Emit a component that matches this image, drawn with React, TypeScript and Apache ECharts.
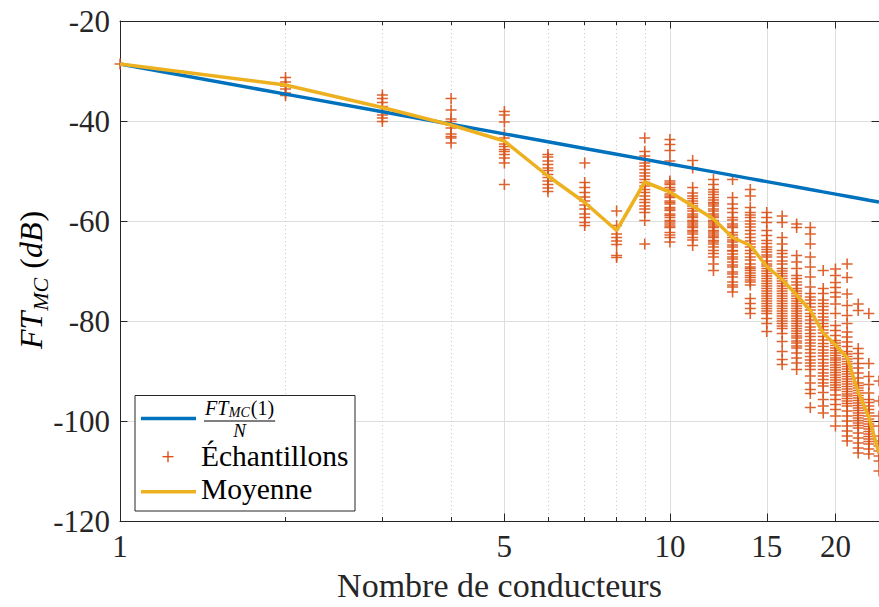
import React, { useEffect, useRef } from "react";
import * as echarts from "echarts";

// ---------- data ----------
const N_VALUES = [1, 2, 3, 4, 5, 6, 7, 8, 9, 10, 11, 12, 13, 14, 15, 16, 17, 18, 19, 20, 21, 22, 23, 24];

// FT_MC(1)/N (dB)
const REFERENCE_DB = [
  -28.6, -34.62, -38.14, -40.64, -42.58, -44.16, -45.5, -46.66, -47.68, -48.6, -49.43, -50.18,
  -50.88, -51.52, -52.12, -52.68, -53.21, -53.71, -54.18, -54.62, -55.04, -55.45, -55.84, -56.2,
];

// Moyenne (dB)
const MEAN_DB = [
  -28.6, -32.8, -37.3, -40.8, -44.0, -51.0, -56.3, -61.9, -52.2, -54.2, -57.0, -59.6,
  -63.3, -64.9, -69.1, -71.7, -74.8, -77.9, -82.4, -84.8, -87.3, -94.2, -99.2, -106.5,
];

// Échantillons (dB), one list per N (index = N - 1)
const SAMPLES: number[][] = [
  [-28.6],
  [-31.3, -32.2, -33.0, -33.6, -34.4, -34.9],
  [-34.8, -35.5, -36.3, -37.1, -38.1, -38.8, -39.4, -40.1],
  [-35.5, -37.8, -39.6, -40.1, -40.8, -41.4, -42.6, -43.1, -43.4, -44.4],
  [-38.1, -38.8, -40.2, -42.6, -43.4, -44.6, -45.1, -45.7, -46.1, -46.7, -47.4, -48.4, -52.7],
  [-46.7, -47.2, -48.0, -48.7, -49.4, -49.9, -50.7, -51.3, -52.0, -52.7, -53.4, -54.1],
  [-48.4, -52.3, -53.3, -54.3, -55.2, -56.0, -56.8, -57.6, -58.6, -59.3, -60.3, -60.9],
  [-58.0, -60.9, -62.6, -63.3, -64.0, -64.7, -66.9, -67.3],
  [-43.4, -46.1, -47.0, -47.7, -48.4, -49.0, -49.7, -50.4, -51.0, -51.7, -52.3, -53.0, -53.7, -54.3, -55.0, -55.7, -56.3, -57.0, -57.6, -58.3, -59.9, -64.6],
  [-43.7, -44.7, -45.9, -48.0, -52.0, -52.4, -52.7, -53.3, -53.7, -54.0, -54.6, -55.0, -55.3, -56.0, -56.3, -56.6, -57.3, -57.6, -57.9, -58.6, -58.9, -59.3, -59.9, -60.2, -60.6, -61.0, -61.3, -62.3, -62.8, -63.3, -64.2],
  [-47.9, -49.4, -53.3, -54.4, -55.0, -55.5, -56.0, -56.5, -57.0, -57.5, -58.0, -58.6, -59.0, -59.3, -59.9, -60.2, -60.6, -61.0, -61.3, -61.9, -62.2, -62.6, -63.3, -63.8, -64.9],
  [-51.7, -52.7, -53.7, -54.2, -54.7, -55.3, -55.8, -56.3, -56.6, -57.0, -57.6, -58.0, -58.6, -59.0, -59.3, -59.9, -60.2, -60.6, -61.0, -61.3, -61.9, -62.2, -62.6, -63.0, -63.3, -63.9, -64.2, -64.6, -65.2, -65.9, -66.5, -67.2, -68.6, -69.9],
  [-51.7, -55.3, -56.6, -57.5, -58.3, -59.3, -59.8, -60.6, -61.0, -61.3, -62.3, -62.8, -63.3, -63.8, -64.2, -64.8, -65.2, -65.9, -66.0, -66.6, -67.2, -67.6, -68.2, -68.8, -69.2, -70.2, -70.6, -71.2, -72.2, -72.8, -73.2, -74.2],
  [-53.7, -55.0, -57.3, -58.3, -58.8, -59.3, -60.0, -60.6, -61.2, -61.9, -62.6, -63.3, -64.0, -64.6, -65.2, -65.9, -66.5, -67.2, -67.8, -68.6, -69.2, -69.5, -69.9, -70.4, -70.9, -71.3, -71.8, -72.2, -72.8, -75.5, -76.5, -77.5, -78.5],
  [-58.3, -59.3, -60.3, -61.9, -62.9, -63.9, -64.5, -65.2, -65.7, -66.2, -66.8, -67.2, -68.0, -68.6, -69.0, -69.5, -70.0, -70.5, -71.0, -71.5, -72.0, -72.5, -73.0, -73.5, -74.0, -74.5, -75.0, -75.5, -76.0, -76.5, -77.0, -77.5, -78.0, -78.5, -79.5, -80.5, -82.1],
  [-59.0, -60.3, -63.3, -64.6, -65.9, -66.5, -67.2, -68.0, -68.6, -69.5, -70.0, -70.5, -71.0, -71.5, -72.0, -72.5, -73.0, -73.5, -74.0, -74.5, -75.0, -75.5, -76.0, -76.5, -77.0, -77.5, -78.0, -78.5, -79.0, -79.5, -80.0, -80.5, -81.0, -81.5, -82.5, -84.1, -86.1, -87.7, -88.7],
  [-60.6, -61.3, -66.9, -68.2, -69.5, -70.9, -71.5, -72.2, -72.8, -73.5, -74.0, -74.5, -75.0, -75.5, -76.0, -76.5, -77.0, -77.5, -78.0, -78.5, -79.0, -79.5, -80.0, -80.5, -81.0, -81.5, -82.0, -82.5, -83.0, -83.4, -84.0, -84.4, -85.0, -85.4, -86.4, -87.4, -88.4, -89.7],
  [-61.3, -62.6, -64.6, -67.2, -69.2, -71.2, -73.2, -74.5, -75.2, -75.8, -76.5, -77.2, -77.8, -78.5, -79.1, -79.8, -80.5, -81.2, -81.8, -82.5, -83.1, -83.8, -84.4, -85.0, -85.7, -86.4, -87.1, -87.8, -88.4, -89.0, -89.7, -91.0, -92.4, -93.7, -94.5, -97.3],
  [-69.9, -73.5, -74.5, -75.8, -76.5, -77.1, -77.8, -78.5, -79.2, -79.8, -80.5, -81.1, -81.8, -82.4, -83.1, -83.8, -84.5, -85.1, -85.8, -86.4, -87.0, -87.7, -88.4, -89.0, -89.7, -90.4, -91.0, -91.7, -92.4, -93.0, -94.3, -95.7, -97.0, -98.4],
  [-69.6, -70.9, -72.3, -73.3, -74.3, -75.2, -76.6, -78.5, -80.9, -81.9, -82.9, -83.9, -84.4, -84.9, -85.4, -85.9, -86.4, -86.9, -87.4, -87.8, -88.3, -88.8, -89.3, -89.8, -90.3, -90.8, -91.3, -91.8, -92.3, -92.8, -93.3, -93.8, -94.8, -95.7, -96.7, -97.7, -99.0, -101.0],
  [-68.6, -71.3, -74.6, -76.9, -78.9, -80.5, -82.2, -83.2, -84.2, -85.1, -86.1, -86.6, -87.1, -87.6, -88.1, -88.6, -89.1, -89.6, -90.1, -90.6, -91.1, -91.6, -92.1, -92.6, -93.1, -93.6, -94.1, -94.6, -95.0, -95.5, -96.0, -96.5, -97.0, -98.0, -99.0, -100.0, -101.0, -102.0, -103.0, -104.0],
  [-76.6, -77.9, -85.5, -86.5, -87.5, -88.5, -89.4, -90.4, -91.4, -92.4, -92.9, -93.4, -93.9, -94.4, -94.9, -95.4, -95.9, -96.4, -96.9, -97.4, -97.9, -98.4, -98.9, -99.4, -99.9, -100.4, -100.9, -101.4, -102.4, -103.4, -104.4, -105.4, -106.4],
  [-78.5, -88.5, -91.1, -92.7, -94.4, -95.7, -96.3, -97.0, -97.7, -98.4, -99.0, -99.6, -100.1, -100.6, -101.1, -101.6, -102.1, -102.6, -103.1, -103.6, -104.1, -104.6, -105.6, -106.6],
  [-92.0, -96.0, -99.0, -101.0, -103.0, -104.0, -105.0, -106.0, -107.0, -108.0, -110.0],
];

const X_MIN = 1;
const X_MAX = 24;
const X_MAJOR_TICKS = [1, 5, 10, 15, 20];
const X_MINOR_TICKS = [2, 3, 4, 6, 7, 8, 9];
const Y_MIN = -120;
const Y_MAX = -20;
const Y_STEP = 20;

const LEGEND_REF = "FT_MC(1)/N";
const LEGEND_SAMPLES = "Échantillons";
const LEGEND_MEAN = "Moyenne";
const X_TITLE = "Nombre de conducteurs";

// ---------- styles ----------
const BLUE = "#0072BD";
const ORANGE = "#EDB120";
const RED = "#D95319";
const AXIS = "#262626";
const GRID_MAJOR = "#dedede";
const GRID_MINOR = "#c8c8c8";
const FONT = '"Liberation Serif", "Times New Roman", serif';
const PLUS = "path://M4.7,0H6.3V4.7H11V6.3H6.3V11H4.7V6.3H0V4.7H4.7Z";

let measureCtx: CanvasRenderingContext2D | null = null;
function measure(text: string, size: number, italic: boolean): number {
  if (!measureCtx) measureCtx = document.createElement("canvas").getContext("2d");
  if (!measureCtx) return text.length * size * 0.5;
  measureCtx.font = `${italic ? "italic " : ""}${size}px ${FONT}`;
  return measureCtx.measureText(text).width;
}

function txt(text: string, x: number, y: number, size: number, italic: boolean, align = "left") {
  return {
    type: "text",
    x,
    y,
    z: 101,
    style: {
      text,
      fontSize: size,
      fontFamily: FONT,
      fontStyle: italic ? "italic" : "normal",
      fill: "#000",
      align,
      verticalAlign: "middle",
    },
  };
}

function buildGraphics() {
  // y-axis title: FT_MC (dB), rotated
  const big = 32;
  const sub = 22;
  const wFT = measure("FT", big, true);
  const wMC = measure("MC", sub, true);
  const wLp = measure("(", big, false);
  const wdB = measure("dB", big, true);
  const wRp = measure(")", big, false);
  const p1 = wFT + 1;
  const p2 = p1 + wMC + 9;
  const p3 = p2 + wLp;
  const p4 = p3 + wdB + 1;
  const L = p4 + wRp;
  const yTitle = {
    type: "group",
    x: 31,
    y: 280 + L / 2,
    rotation: Math.PI / 2,
    z: 101,
    children: [
      txt("FT", 0, 0, big, true),
      txt("MC", p1, 9, sub, true),
      txt("(", p2, 0, big, false),
      txt("dB", p3, 0, big, true),
      txt(")", p4, 0, big, false),
    ],
  };

  // legend
  const nb = 20;
  const ns = 14;
  const fx = 205;
  const wF = measure("FT", nb, true);
  const wM = measure("MC", ns, true);
  const w1 = measure("(1)", nb, false);
  const endX = fx + wF + 0.5 + wM + 1 + w1;
  const legend = {
    type: "group",
    z: 100,
    children: [
      { type: "rect", z: 100, shape: { x: 135, y: 395.5, width: 220, height: 115.5 }, style: { fill: "#fff", stroke: AXIS, lineWidth: 1 } },
      { type: "line", z: 101, shape: { x1: 141, y1: 418.5, x2: 196, y2: 418.5 }, style: { stroke: BLUE, lineWidth: 3.5 } },
      txt("FT", fx, 407.5, nb, true),
      txt("MC", fx + wF + 0.5, 412.3, ns, true),
      txt("(1)", fx + wF + 0.5 + wM + 1, 407.5, nb, false),
      { type: "line", z: 101, shape: { x1: fx - 1, y1: 421, x2: endX + 1, y2: 421 }, style: { stroke: "#000", lineWidth: 1.2 } },
      txt("N", (fx + endX) / 2, 430, 19, true, "center"),
      { type: "line", z: 101, shape: { x1: 162.5, y1: 456.7, x2: 173.5, y2: 456.7 }, style: { stroke: RED, lineWidth: 1.4 } },
      { type: "line", z: 101, shape: { x1: 168, y1: 451.2, x2: 168, y2: 462.2 }, style: { stroke: RED, lineWidth: 1.4 } },
      txt(LEGEND_SAMPLES, 201, 455.5, 29.5, false),
      { type: "line", z: 101, shape: { x1: 141, y1: 491.7, x2: 196, y2: 491.7 }, style: { stroke: ORANGE, lineWidth: 3.5 } },
      txt(LEGEND_MEAN, 201, 488.5, 29.5, false),
    ],
  };
  return [yTitle, legend];
}

function logX(extra: any) {
  return {
    type: "log",
    logBase: 10,
    min: X_MIN,
    max: X_MAX,
    axisLine: { show: false, onZero: false, lineStyle: { color: AXIS, width: 1 } },
    axisTick: { show: false },
    axisLabel: { show: false },
    splitLine: { show: false },
    ...extra,
  };
}

function buildOption() {
  const samplePoints: number[][] = [];
  SAMPLES.forEach((col, i) => col.forEach((v) => samplePoints.push([N_VALUES[i], v])));

  return {
    animation: false,
    backgroundColor: "#ffffff",
    grid: { left: 120, top: 21, right: -5, bottom: 81 },
    xAxis: [
      logX({
        position: "bottom",
        axisLine: { show: true, onZero: false, lineStyle: { color: AXIS, width: 1 } },
        axisTick: { show: true, inside: true, length: 7.5, customValues: X_MAJOR_TICKS, lineStyle: { color: AXIS, width: 1 } },
        axisLabel: { show: true, customValues: X_MAJOR_TICKS, fontSize: 31, fontFamily: FONT, color: AXIS, margin: 10 },
        splitLine: { show: true, lineStyle: { color: GRID_MAJOR, width: 1 } },
        name: X_TITLE,
        nameLocation: "middle",
        nameGap: 47,
        nameTextStyle: { fontSize: 34, fontFamily: FONT, color: AXIS },
      }),
      logX({
        position: "bottom",
        axisTick: { show: true, inside: true, length: 4, customValues: X_MINOR_TICKS, lineStyle: { color: AXIS, width: 1 } },
        splitLine: { show: true, lineStyle: { color: GRID_MINOR, width: 1, type: [1, 3] } },
      }),
      logX({
        position: "top",
        axisLine: { show: true, onZero: false, lineStyle: { color: AXIS, width: 1 } },
        axisTick: { show: true, inside: true, length: 7.5, customValues: X_MAJOR_TICKS, lineStyle: { color: AXIS, width: 1 } },
      }),
      logX({
        position: "top",
        axisTick: { show: true, inside: true, length: 4, customValues: X_MINOR_TICKS, lineStyle: { color: AXIS, width: 1 } },
      }),
    ],
    yAxis: [
      {
        type: "value",
        position: "left",
        min: Y_MIN,
        max: Y_MAX,
        interval: Y_STEP,
        axisLine: { show: true, onZero: false, lineStyle: { color: AXIS, width: 1 } },
        axisTick: { show: true, inside: true, length: 7.5, lineStyle: { color: AXIS, width: 1 } },
        axisLabel: { fontSize: 31, fontFamily: FONT, color: AXIS, margin: 10 },
        splitLine: { show: true, lineStyle: { color: GRID_MAJOR, width: 1 } },
      },
      {
        type: "value",
        position: "right",
        min: Y_MIN,
        max: Y_MAX,
        interval: Y_STEP,
        axisLine: { show: true, onZero: false, lineStyle: { color: AXIS, width: 1 } },
        axisTick: { show: true, inside: true, length: 7.5, lineStyle: { color: AXIS, width: 1 } },
        axisLabel: { show: false },
        splitLine: { show: false },
      },
    ],
    graphic: buildGraphics(),
    series: [
      {
        name: LEGEND_SAMPLES,
        type: "scatter",
        xAxisIndex: 0,
        yAxisIndex: 0,
        symbol: PLUS,
        symbolSize: 11,
        itemStyle: { color: RED, opacity: 0.9 },
        data: samplePoints,
        z: 2,
      },
      {
        name: LEGEND_REF,
        type: "line",
        xAxisIndex: 0,
        yAxisIndex: 0,
        showSymbol: false,
        symbol: "none",
        lineStyle: { color: BLUE, width: 3.5 },
        data: N_VALUES.map((n, i) => [n, REFERENCE_DB[i]]),
        z: 3,
      },
      {
        name: LEGEND_MEAN,
        type: "line",
        xAxisIndex: 0,
        yAxisIndex: 0,
        showSymbol: false,
        symbol: "none",
        lineStyle: { color: ORANGE, width: 3.5 },
        data: N_VALUES.map((n, i) => [n, MEAN_DB[i]]),
        z: 4,
      },
    ],
  };
}

export default function App() {
  const ref = useRef<HTMLDivElement>(null);
  useEffect(() => {
    if (!ref.current) return;
    const chart = echarts.init(ref.current, undefined, { renderer: "svg" });
    chart.setOption(buildOption() as any);
    return () => chart.dispose();
  }, []);
  return (
    <div
      ref={ref}
      style={{ position: "fixed", left: 0, top: 0, width: 879, height: 607, background: "#fff", overflow: "hidden" }}
    />
  );
}
